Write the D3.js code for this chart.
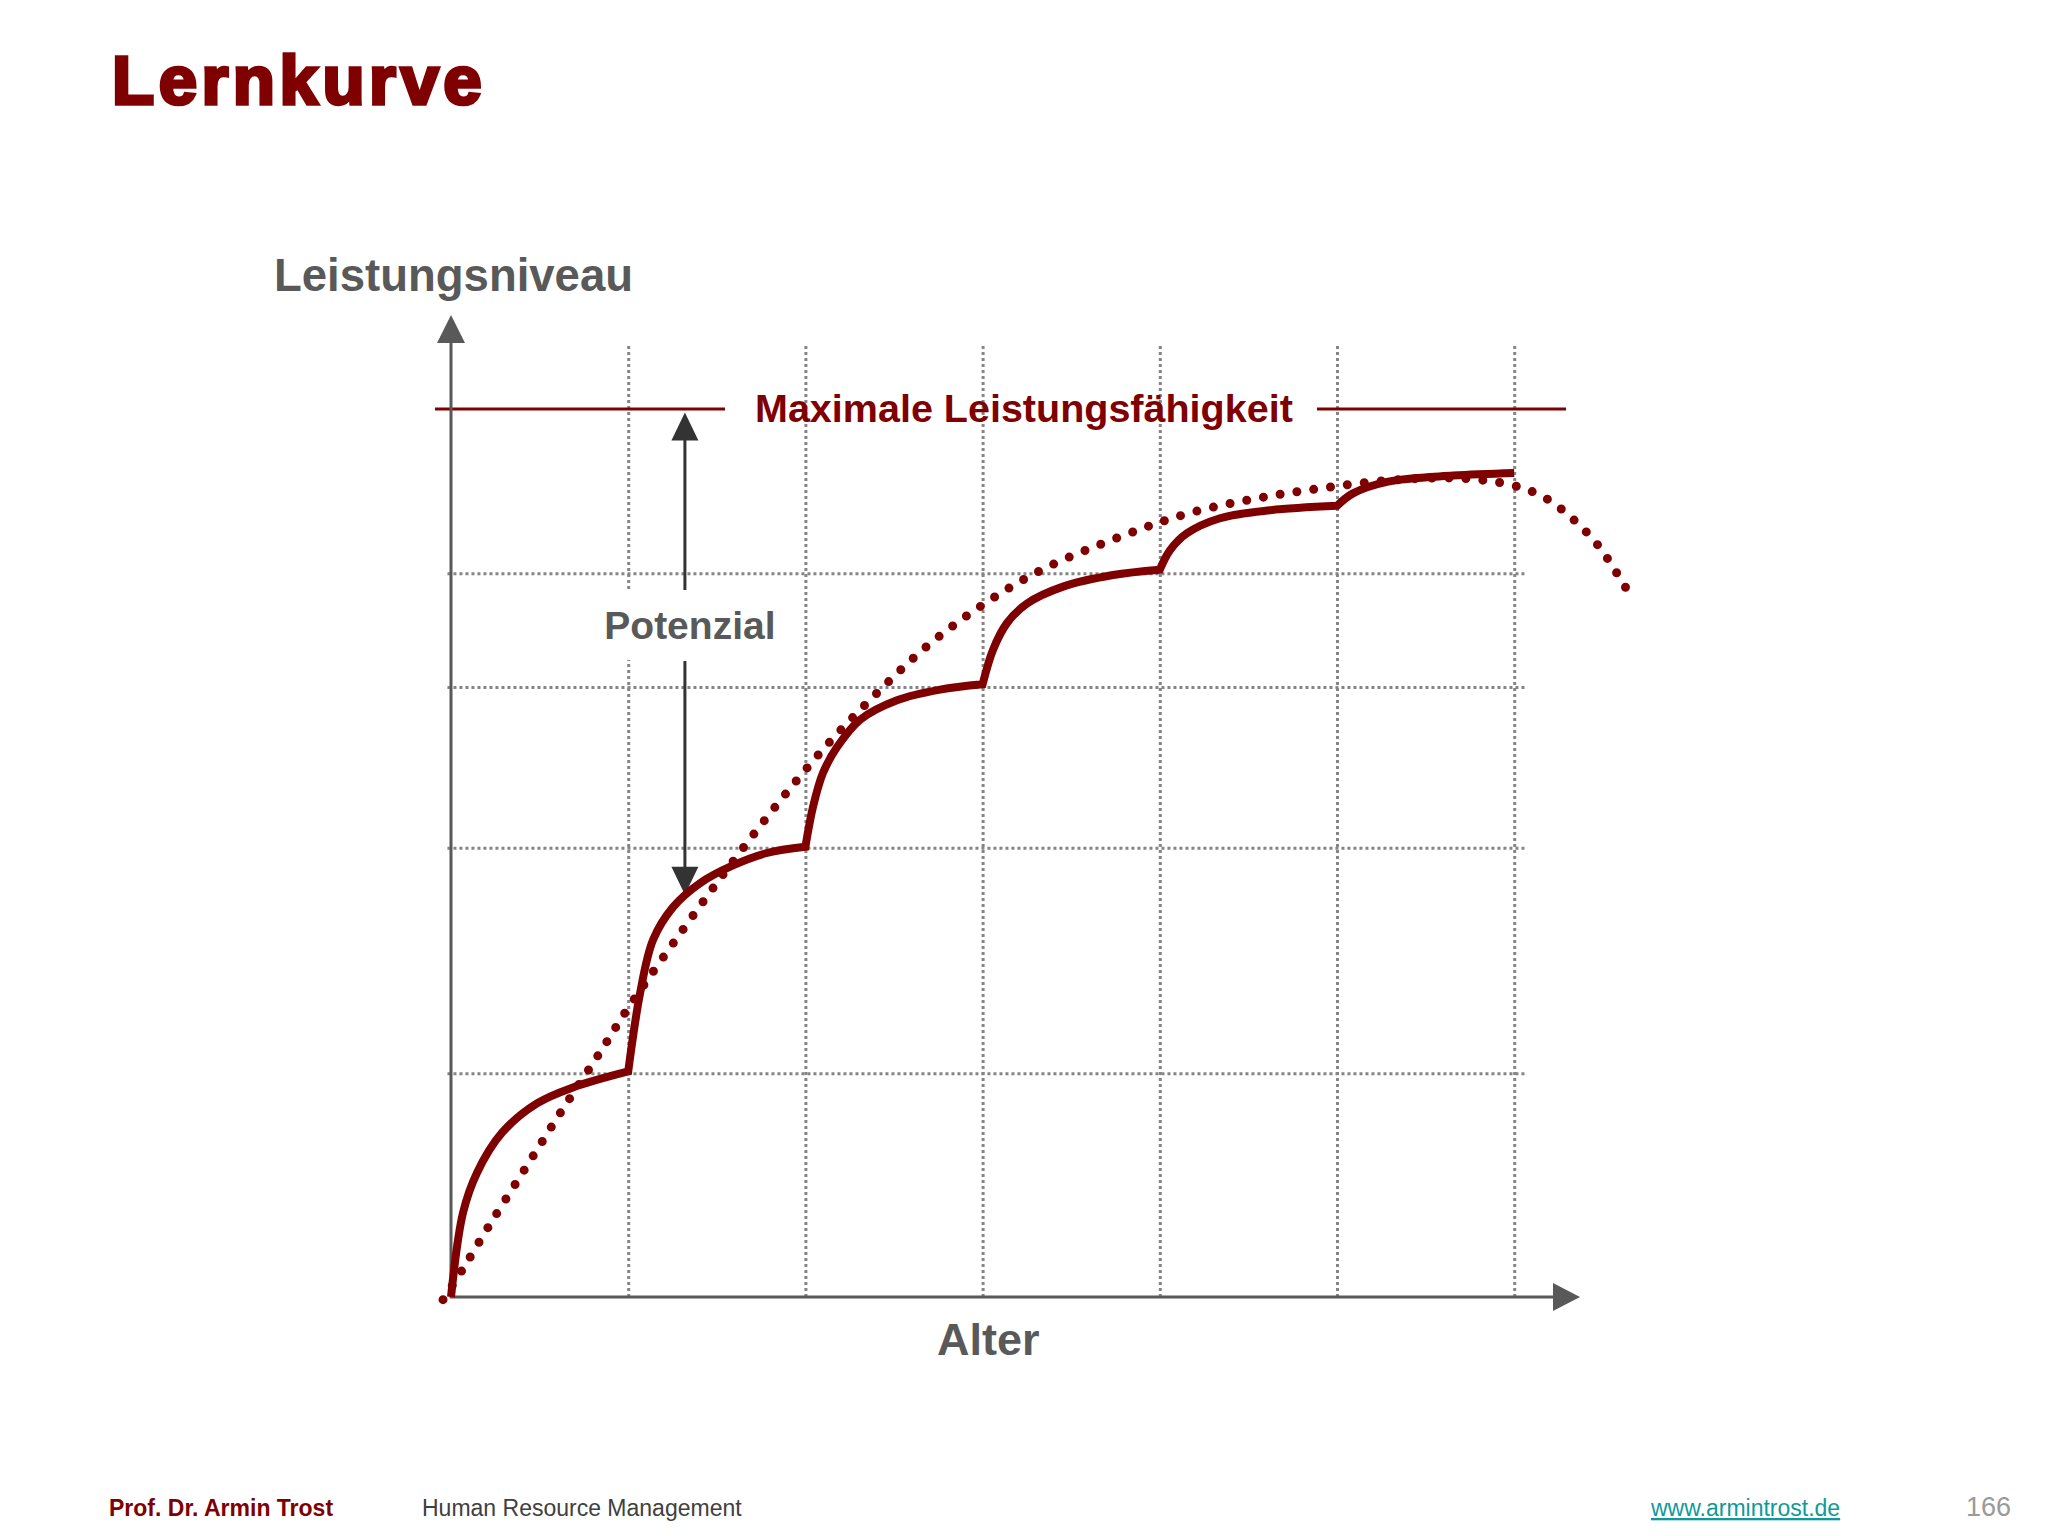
<!DOCTYPE html>
<html>
<head>
<meta charset="utf-8">
<script src="https://cdn.jsdelivr.net/npm/d3@7"></script>
<style>
  body { margin: 0; background: #fff; }
  svg text { font-family: "Liberation Sans", Arial, sans-serif; }
</style>
</head>
<body>
<svg id="chart" width="2048" height="1536"></svg>
<script>
// Data: x = age in grid steps, y = level (100 = max capacity)
var gridX = [1, 2, 3, 4, 5, 6];
var gridLevels = [25.2, 50.6, 68.7, 81.5];
var maxLevel = 100;

// solid learning curve, one array per learning step
var step1 = [[0, 0], [0.068, 9.5], [0.147, 14.0], [0.288, 18.5], [0.485, 21.8], [0.688, 23.6], [1, 25.4]];
var step2 = [[1, 25.4], [1.067, 34.2], [1.14, 40.2], [1.253, 43.9], [1.405, 46.6], [1.591, 48.6], [1.783, 50.0], [2, 50.7]];
var step3 = [[2, 50.7], [2.043, 55.2], [2.099, 59.0], [2.178, 61.9], [2.308, 65.0], [2.517, 67.2], [2.76, 68.4], [3, 69.0]];
var step4 = [[3, 69.0], [3.059, 72.9], [3.138, 75.9], [3.251, 78.1], [3.454, 80.0], [3.736, 81.3], [4, 81.9]];
var step5 = [[4, 81.9], [4.058, 84.1], [4.153, 86.0], [4.34, 87.7], [4.622, 88.6], [5, 89.1]];
var step6 = [[5, 89.1], [5.09, 90.5], [5.282, 91.8], [5.655, 92.5], [6, 92.8]];
var steps = [step1, step2, step3, step4, step5, step6];

// dotted overall trend
var trend = [[-0.045, -0.3], [0.062, 3.0], [0.214, 8.0], [0.423, 14.6], [0.632, 21.2], [0.846, 27.7],
  [1.005, 32.7], [1.4, 43.9], [1.631, 50.1], [1.874, 56.3], [2.128, 62.3], [2.398, 67.9], [2.681, 73.2],
  [2.997, 77.9], [3.335, 81.9], [3.787, 85.7], [4.153, 88.2], [4.537, 89.9], [4.921, 91.1], [5.316, 92.0],
  [5.694, 92.2], [5.993, 91.4], [6.174, 90.0], [6.332, 87.6], [6.467, 84.8], [6.58, 81.5], [6.676, 78.3]];

// "Potenzial" arrow: x position and the two levels it spans
var potentialX = 1.32;
var potentialLevels = [45.3, 99.6];

var red = '#7f0000';
var gray = '#595959';

var x = d3.scaleLinear().domain([0, 6]).range([451, 1514.2]);
var y = d3.scaleLinear().domain([0, 100]).range([1297, 409]);

var svg = d3.select('#chart');

// Title
svg.append('text')
    .text('Lernkurve')
    .attr('x', 112)
    .attr('y', 104)
    .attr('fill', red)
    .attr('stroke', red)
    .attr('stroke-width', 3.5)
    .style('letter-spacing', '4.5px')
    .style('font-size', '69px')
    .style('font-weight', 'bold');

// Grid (dotted) via axes
var vgrid = svg.append('g')
    .attr('transform', 'translate(0,' + y(0) + ')')
    .call(d3.axisBottom(x).tickValues(gridX).tickSize(-(y(0) - 346)).tickFormat(''));
vgrid.select('.domain').remove();
vgrid.selectAll('line')
    .attr('stroke', '#858585')
    .attr('stroke-width', 3)
    .attr('stroke-dasharray', '3 3');

var hgrid = svg.append('g')
    .attr('transform', 'translate(' + x(-0.02) + ',0)')
    .call(d3.axisLeft(y).tickValues(gridLevels).tickSize(-(x(6.06) - x(-0.02))).tickFormat(''));
hgrid.select('.domain').remove();
hgrid.selectAll('line')
    .attr('stroke', '#858585')
    .attr('stroke-width', 3)
    .attr('stroke-dasharray', '3 3');

// Max capacity line
svg.append('line')
    .attr('x1', 435).attr('x2', 725)
    .attr('y1', y(maxLevel)).attr('y2', y(maxLevel))
    .attr('stroke', red).attr('stroke-width', 3);
svg.append('line')
    .attr('x1', 1317).attr('x2', 1566)
    .attr('y1', y(maxLevel)).attr('y2', y(maxLevel))
    .attr('stroke', red).attr('stroke-width', 3);
svg.append('text')
    .text('Maximale Leistungsfähigkeit')
    .attr('x', 755)
    .attr('y', y(maxLevel) + 13)
    .attr('fill', red)
    .style('font-size', '39.5px')
    .style('font-weight', 'bold');

// Axes with arrow heads
function arrowHead(tx, ty, dir, len, half) {
    // dir: 'up', 'down', 'right'
    if (dir === 'up') return 'M' + tx + ',' + ty + 'L' + (tx - half) + ',' + (ty + len) + 'L' + (tx + half) + ',' + (ty + len) + 'Z';
    if (dir === 'down') return 'M' + tx + ',' + ty + 'L' + (tx - half) + ',' + (ty - len) + 'L' + (tx + half) + ',' + (ty - len) + 'Z';
    return 'M' + tx + ',' + ty + 'L' + (tx - len) + ',' + (ty - half) + 'L' + (tx - len) + ',' + (ty + half) + 'Z';
}

svg.append('line')
    .attr('x1', x(0)).attr('x2', x(0))
    .attr('y1', y(0) + 1).attr('y2', 343)
    .attr('stroke', gray).attr('stroke-width', 3);
svg.append('path').attr('d', arrowHead(x(0), 315, 'up', 28, 14)).attr('fill', gray);

svg.append('line')
    .attr('x1', x(0) - 1).attr('x2', 1554)
    .attr('y1', y(0)).attr('y2', y(0))
    .attr('stroke', gray).attr('stroke-width', 3);
svg.append('path').attr('d', arrowHead(1580, y(0), 'right', 27, 14)).attr('fill', gray);

svg.append('text')
    .text('Leistungsniveau')
    .attr('x', 274)
    .attr('y', 291)
    .attr('fill', gray)
    .style('font-size', '45.5px')
    .style('font-weight', 'bold');

svg.append('text')
    .text('Alter')
    .attr('x', 937)
    .attr('y', 1355)
    .attr('fill', gray)
    .style('font-size', '45px')
    .style('font-weight', 'bold');

// Potenzial arrow
var px = x(potentialX);
var lowY = y(potentialLevels[0]);
var highY = y(potentialLevels[1]);
svg.append('rect')
    .attr('x', px - 92).attr('y', 590)
    .attr('width', 188).attr('height', 70)
    .attr('fill', '#fff');
svg.append('line')
    .attr('x1', px).attr('x2', px)
    .attr('y1', highY + 26).attr('y2', 590)
    .attr('stroke', '#333').attr('stroke-width', 3);
svg.append('path').attr('d', arrowHead(px, highY, 'up', 28, 13.5)).attr('fill', '#333');
svg.append('line')
    .attr('x1', px).attr('x2', px)
    .attr('y1', 661).attr('y2', lowY - 26)
    .attr('stroke', '#333').attr('stroke-width', 3);
svg.append('path').attr('d', arrowHead(px, lowY, 'down', 28, 13.5)).attr('fill', '#333');
svg.append('text')
    .text('Potenzial')
    .attr('x', px + 5)
    .attr('y', 639)
    .attr('text-anchor', 'middle')
    .attr('fill', gray)
    .style('font-size', '39px')
    .style('font-weight', 'bold');

// Dotted trend curve
var trendLine = d3.line()
    .x(function(d) { return x(d[0]); })
    .y(function(d) { return y(d[1]); })
    .curve(d3.curveCatmullRom.alpha(0.5));

var trendPath = svg.append('path')
    .attr('d', trendLine(trend))
    .attr('fill', 'none')
    .attr('stroke', red)
    .attr('stroke-width', 9)
    .attr('stroke-linecap', 'round');

// spread the dots so one sits on each end of the path
var len = trendPath.node().getTotalLength();
var gap = len / Math.round(len / 17);
trendPath.attr('stroke-dasharray', '0 ' + gap);

// Solid stepped learning curve, joined into one path so the kinks stay sharp
var stepLine = d3.line()
    .x(function(d) { return x(d[0]); })
    .y(function(d) { return y(d[1]); })
    .curve(d3.curveCatmullRom.alpha(0.5));

var d = steps.map(function(s, i) {
    var p = stepLine(s);
    return i === 0 ? p : p.replace(/^M/, 'L');
}).join('');

svg.append('path')
    .attr('d', d)
    .attr('fill', 'none')
    .attr('stroke', red)
    .attr('stroke-width', 8)
    .attr('stroke-linejoin', 'miter');

// Footer
svg.append('text')
    .text('Prof. Dr. Armin Trost')
    .attr('x', 109).attr('y', 1516)
    .attr('fill', red)
    .style('font-size', '23px')
    .style('font-weight', 'bold');

svg.append('text')
    .text('Human Resource Management')
    .attr('x', 422).attr('y', 1516)
    .attr('fill', '#404040')
    .style('font-size', '23px');

svg.append('text')
    .text('www.armintrost.de')
    .attr('x', 1651).attr('y', 1516)
    .attr('fill', '#0e9a9a')
    .style('font-size', '23px')
    .style('text-decoration', 'underline');

svg.append('text')
    .text('166')
    .attr('x', 1966).attr('y', 1516)
    .attr('fill', '#9a9a9a')
    .style('font-size', '27px');
</script>
</body>
</html>
